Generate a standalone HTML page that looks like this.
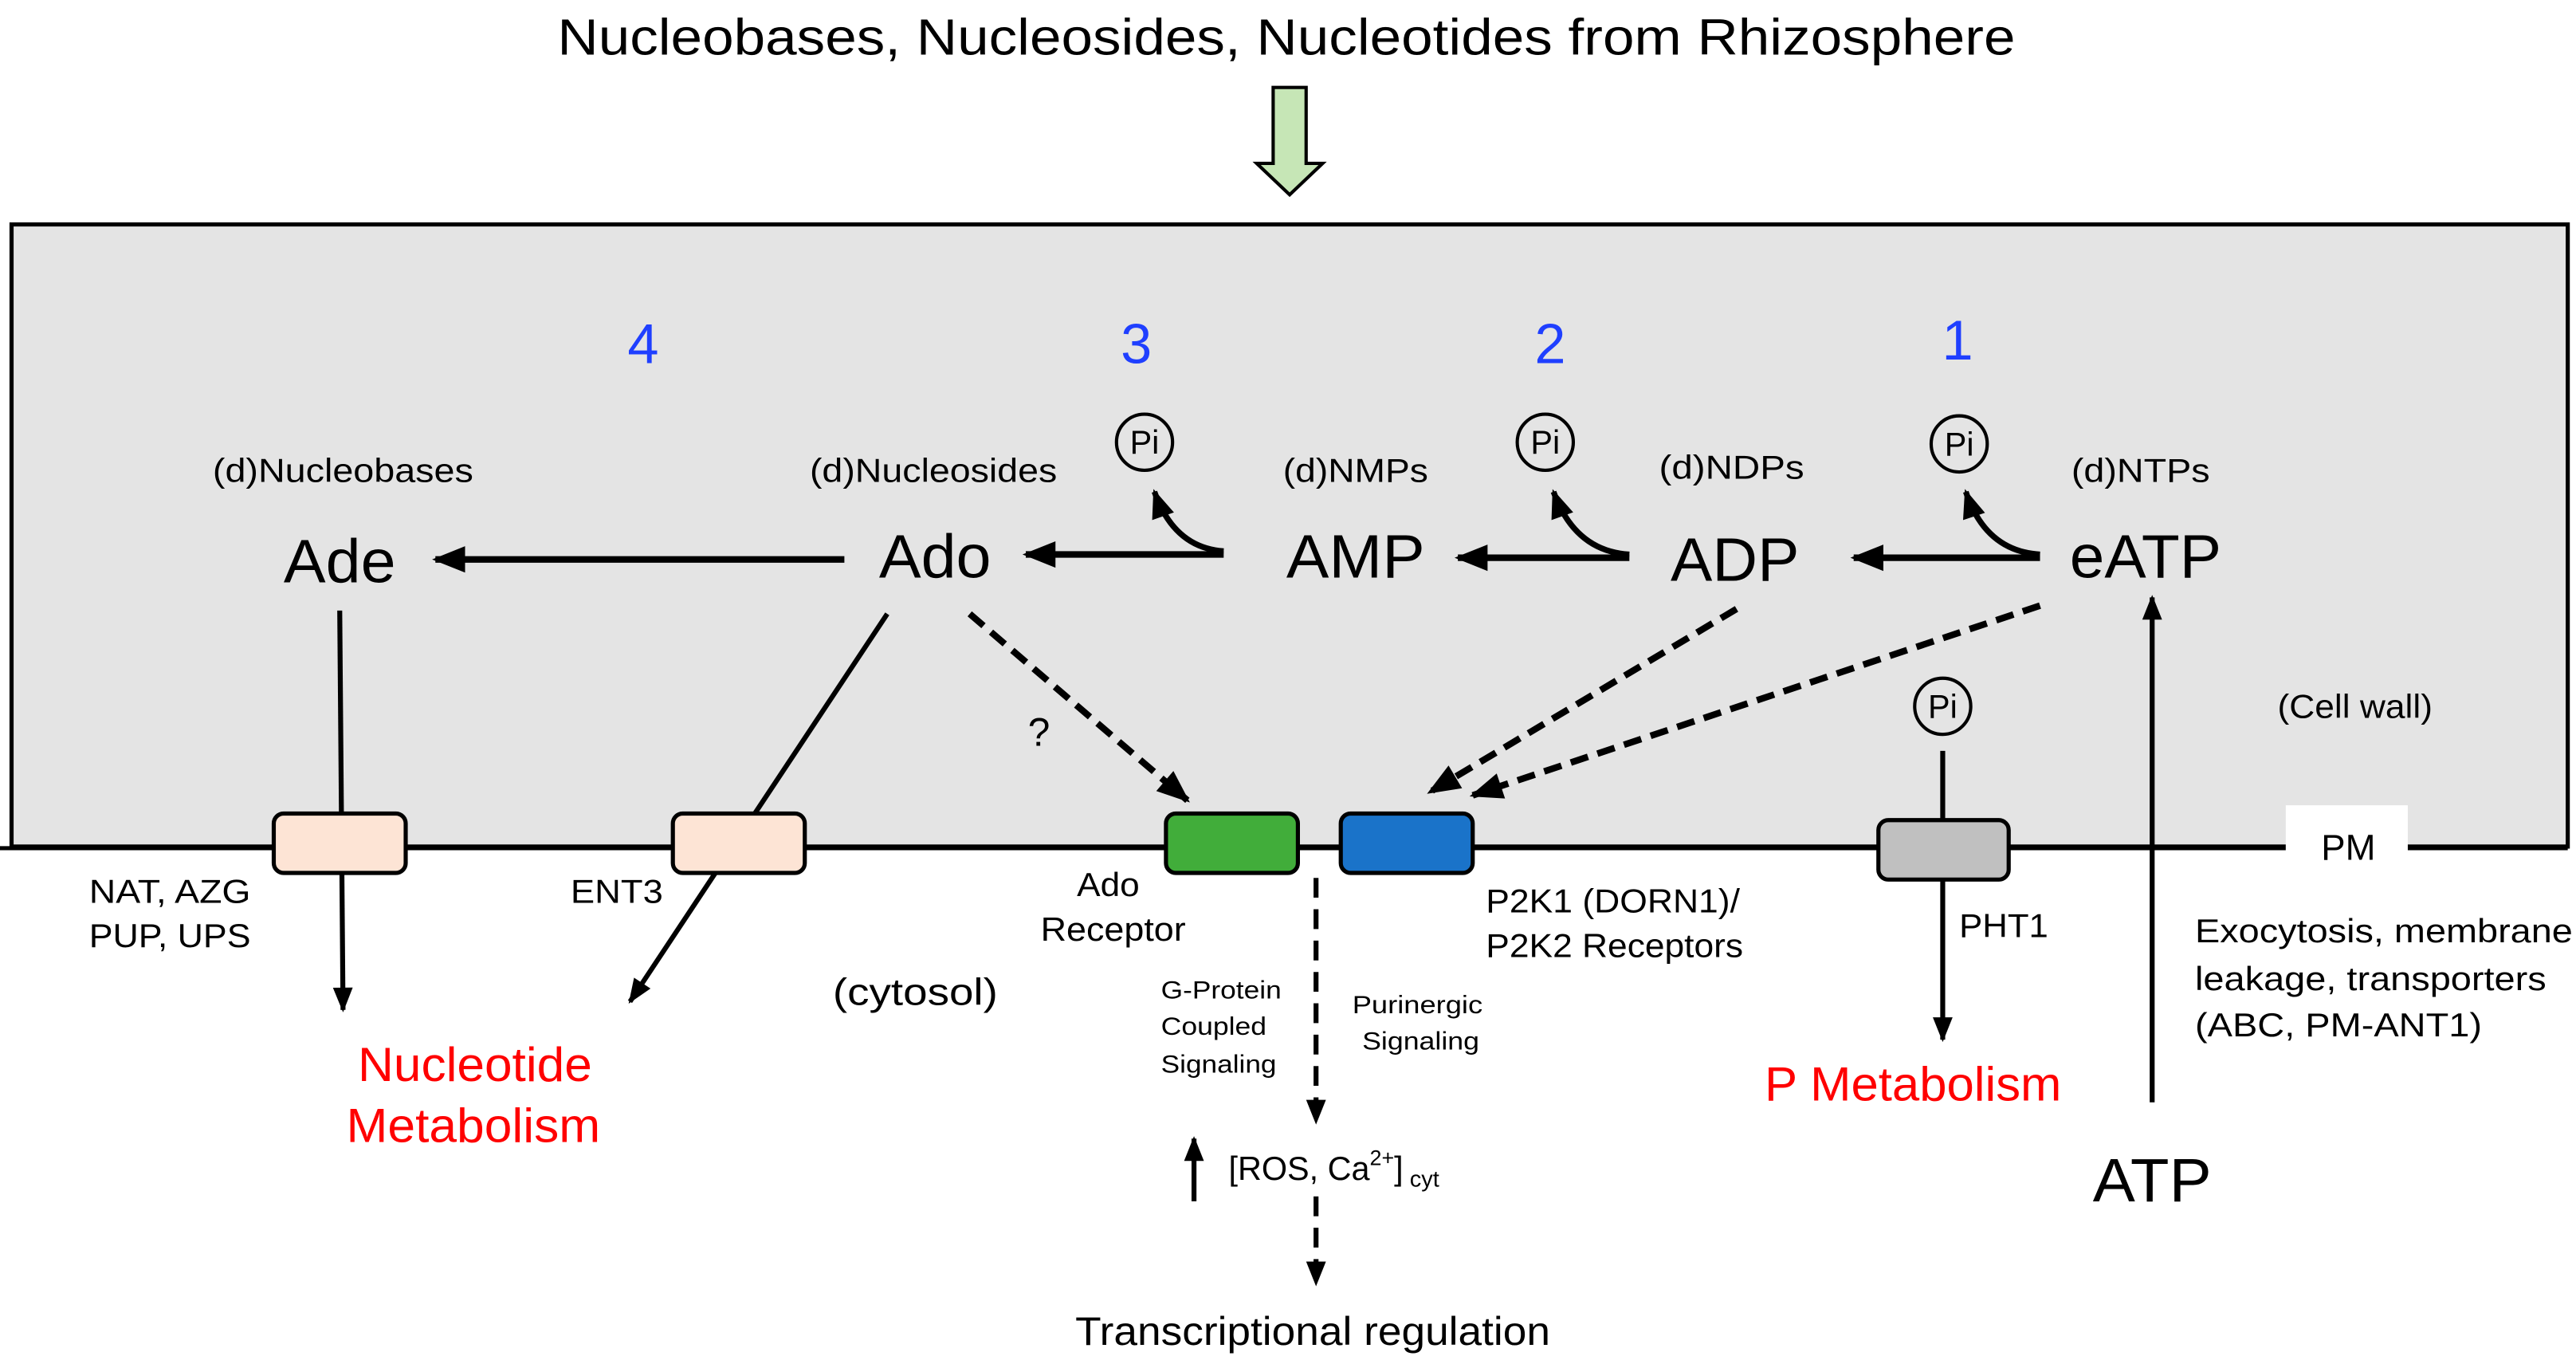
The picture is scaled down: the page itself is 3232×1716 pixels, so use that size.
<!DOCTYPE html>
<html><head><meta charset="utf-8"><style>html,body{margin:0;padding:0;background:#fff}svg{display:block}text{font-family:"Liberation Sans",Arial,sans-serif}</style></head><body>
<svg width="3232" height="1716" viewBox="0 0 1562 829" preserveAspectRatio="none" xmlns="http://www.w3.org/2000/svg">
<defs>
<marker id="ah" viewBox="0 0 10 10" refX="9" refY="5" markerWidth="4" markerHeight="4" orient="auto" markerUnits="strokeWidth"><path d="M0,1 L10,5 L0,9 Z" fill="#000"/></marker>
<marker id="ah2" viewBox="0 0 10 10" refX="9" refY="5" markerWidth="6" markerHeight="5" orient="auto" markerUnits="strokeWidth"><path d="M0,1 L10,5 L0,9 Z" fill="#000"/></marker>
</defs>
<text x="780" y="33" font-size="31" text-anchor="middle" textLength="884" lengthAdjust="spacingAndGlyphs">Nucleobases, Nucleosides, Nucleotides from Rhizosphere</text>
<path d="M772,53 H792 V99 H802 L782,118 L762,99 H772 Z" fill="#c6e6b6" stroke="#000" stroke-width="2"/>
<rect x="7" y="136" width="1550" height="377" fill="#e4e4e4" stroke="#000" stroke-width="2.5"/>
<line x1="0" y1="514" x2="1557" y2="514" stroke="#000" stroke-width="2.5"/>
<rect x="1386" y="488" width="74" height="42" fill="#fff"/>
<text x="1424" y="521" font-size="22" text-anchor="middle">PM</text>
<g fill="#1f3fff" font-size="34" text-anchor="middle"><text x="390" y="220">4</text><text x="689" y="220">3</text><text x="940" y="220">2</text><text x="1187" y="218">1</text></g>
<g font-size="20" text-anchor="middle">
<text x="208" y="292" textLength="158" lengthAdjust="spacingAndGlyphs">(d)Nucleobases</text>
<text x="566" y="292" textLength="150" lengthAdjust="spacingAndGlyphs">(d)Nucleosides</text>
<text x="822" y="292" textLength="88" lengthAdjust="spacingAndGlyphs">(d)NMPs</text>
<text x="1050" y="290" textLength="88" lengthAdjust="spacingAndGlyphs">(d)NDPs</text>
<text x="1298" y="292" textLength="84" lengthAdjust="spacingAndGlyphs">(d)NTPs</text>
<text x="1428" y="435" textLength="94" lengthAdjust="spacingAndGlyphs">(Cell wall)</text>
</g>
<g font-size="37" text-anchor="middle">
<text x="206" y="353" textLength="68" lengthAdjust="spacingAndGlyphs">Ade</text>
<text x="567" y="350" textLength="68" lengthAdjust="spacingAndGlyphs">Ado</text>
<text x="822" y="350" textLength="84" lengthAdjust="spacingAndGlyphs">AMP</text>
<text x="1052" y="352" textLength="78" lengthAdjust="spacingAndGlyphs">ADP</text>
<text x="1301" y="350" textLength="92" lengthAdjust="spacingAndGlyphs">eATP</text>
<text x="1305" y="728" textLength="72" lengthAdjust="spacingAndGlyphs">ATP</text>
</g>
<g stroke="#000" stroke-width="4" fill="none" marker-end="url(#ah2)">
<line x1="512" y1="339" x2="264" y2="339"/>
<line x1="742" y1="336" x2="622" y2="336"/>
<line x1="988" y1="338" x2="884" y2="338"/>
<line x1="1237" y1="338" x2="1124" y2="338"/>
</g>
<g stroke="#000" stroke-width="3.5" fill="none" marker-end="url(#ah2)">
<path d="M742,334 Q712,332 700,298"/>
<path d="M988,336 Q955,334 942,298"/>
<path d="M1237,336 Q1204,334 1192,298"/>
</g>
<g fill="none" stroke="#000" stroke-width="2">
<circle cx="694" cy="268" r="17"/><circle cx="937" cy="268" r="17"/><circle cx="1188" cy="269" r="17"/><circle cx="1178" cy="428" r="17"/>
</g>
<g font-size="20" text-anchor="middle"><text x="694" y="275">Pi</text><text x="937" y="275">Pi</text><text x="1188" y="276">Pi</text><text x="1178" y="435">Pi</text></g>
<g stroke="#000" stroke-width="3" fill="none" marker-end="url(#ah2)">
<line x1="206" y1="370" x2="208" y2="612"/>
<line x1="538" y1="372" x2="382" y2="607"/>
<line x1="1178" y1="455" x2="1178" y2="630"/>
<line x1="1305" y1="668" x2="1305" y2="362"/>
<line x1="724" y1="728" x2="724" y2="690"/>
</g>
<g stroke="#000" stroke-width="4" fill="none" stroke-dasharray="11,6" marker-end="url(#ah2)">
<line x1="588" y1="372" x2="720" y2="485"/>
<line x1="1053" y1="369" x2="867" y2="480"/>
<line x1="1237" y1="367" x2="893" y2="482"/>
</g>
<g stroke="#000" stroke-width="3" fill="none" stroke-dasharray="12,7" marker-end="url(#ah2)">
<line x1="798" y1="532" x2="798" y2="680"/>
<line x1="798" y1="725" x2="798" y2="778"/>
</g>
<g stroke="#000" stroke-width="2.5">
<rect x="166" y="493" width="80" height="36" rx="6" fill="#fde4d5"/>
<rect x="408" y="493" width="80" height="36" rx="6" fill="#fde4d5"/>
<rect x="707" y="493" width="80" height="36" rx="6" fill="#41ad3a"/>
<rect x="813" y="493" width="80" height="36" rx="6" fill="#1a73c9"/>
<rect x="1139" y="497" width="79" height="36" rx="6" fill="#c0c0c0"/>
</g>
<text x="630" y="452" font-size="24" text-anchor="middle">?</text>
<g font-size="20">
<text x="54" y="547" textLength="98" lengthAdjust="spacingAndGlyphs">NAT, AZG</text>
<text x="54" y="574" textLength="98" lengthAdjust="spacingAndGlyphs">PUP, UPS</text>
<text x="346" y="547" textLength="56" lengthAdjust="spacingAndGlyphs">ENT3</text>
<text x="672" y="543" text-anchor="middle" textLength="38" lengthAdjust="spacingAndGlyphs">Ado</text>
<text x="675" y="570" text-anchor="middle" textLength="88" lengthAdjust="spacingAndGlyphs">Receptor</text>
<text x="901" y="553" textLength="154" lengthAdjust="spacingAndGlyphs">P2K1 (DORN1)/</text>
<text x="901" y="580" textLength="156" lengthAdjust="spacingAndGlyphs">P2K2 Receptors</text>
<text x="1188" y="568" textLength="54" lengthAdjust="spacingAndGlyphs">PHT1</text>
<text x="1331" y="571" textLength="229" lengthAdjust="spacingAndGlyphs">Exocytosis, membrane</text>
<text x="1331" y="600" textLength="213" lengthAdjust="spacingAndGlyphs">leakage, transporters</text>
<text x="1331" y="628" textLength="174" lengthAdjust="spacingAndGlyphs">(ABC, PM-ANT1)</text>
</g>
<text x="555" y="609" font-size="23" text-anchor="middle" textLength="100" lengthAdjust="spacingAndGlyphs">(cytosol)</text>
<g font-size="15">
<text x="704" y="605" textLength="73" lengthAdjust="spacingAndGlyphs">G-Protein</text>
<text x="704" y="627" textLength="64" lengthAdjust="spacingAndGlyphs">Coupled</text>
<text x="704" y="650" textLength="70" lengthAdjust="spacingAndGlyphs">Signaling</text>
<text x="820" y="614" textLength="79" lengthAdjust="spacingAndGlyphs">Purinergic</text>
<text x="826" y="636" textLength="71" lengthAdjust="spacingAndGlyphs">Signaling</text>
</g>
<text x="745" y="715" font-size="20">[ROS, Ca<tspan font-size="13" dy="-9">2+</tspan><tspan dy="9">]</tspan><tspan font-size="14" dy="4"> cyt</tspan></text>
<text x="796" y="815" font-size="24" text-anchor="middle" textLength="288" lengthAdjust="spacingAndGlyphs">Transcriptional regulation</text>
<g fill="#ff0000" font-size="29" text-anchor="middle">
<text x="288" y="655" textLength="142" lengthAdjust="spacingAndGlyphs">Nucleotide</text>
<text x="287" y="692" textLength="154" lengthAdjust="spacingAndGlyphs">Metabolism</text>
<text x="1160" y="667" textLength="180" lengthAdjust="spacingAndGlyphs">P Metabolism</text>
</g>
</svg>
</body></html>
